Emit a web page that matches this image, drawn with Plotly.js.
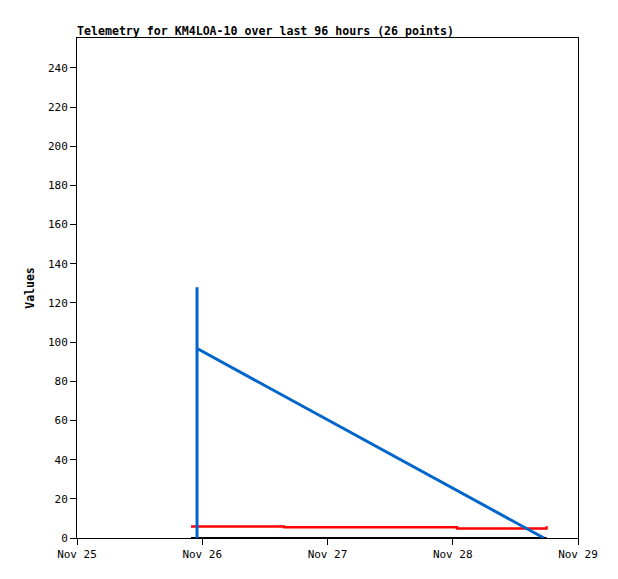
<!DOCTYPE html>
<html><head><meta charset="utf-8">
<script src="https://cdn.plot.ly/plotly-3.0.1.min.js"></script>
<style>html,body{margin:0;padding:0;background:#fff;}#chart{width:618px;height:579px;}</style>
</head><body><div id="chart"></div>
<script>
var blueTimes = ["2023-11-25 23:00", "2023-11-25 23:00", "2023-11-25 23:00", "2023-11-25 23:11", "2023-11-28 17:29"];
var blueValues = [0, 128, 96.5, 96.5, 0];
var redTimes = ["2023-11-25 21:51", "2023-11-26 15:43", "2023-11-26 15:44", "2023-11-28 00:49", "2023-11-28 00:50", "2023-11-28 17:58", "2023-11-28 18:00"];
var redValues = [5.9, 5.9, 5.5, 5.5, 4.9, 4.9, 6.0];
var blackTimes = ["2023-11-25 21:51", "2023-11-28 18:00"];
var blackValues = [0, 0];
var xTickVals = ["2023-11-25", "2023-11-26", "2023-11-27", "2023-11-28", "2023-11-29"];
var xTickText = ["Nov 25", "Nov 26", "Nov 27", "Nov 28", "Nov 29"];
var yTickVals = [0, 20, 40, 60, 80, 100, 120, 140, 160, 180, 200, 220, 240];

var traces = [
  {x: blackTimes, y: blackValues, mode: "lines", line: {color: "#000000", width: 2}, showlegend: false, hoverinfo: "skip"},
  {x: redTimes, y: redValues, mode: "lines", line: {color: "#ff0000", width: 2.5}, showlegend: false},
  {x: blueTimes, y: blueValues, mode: "lines", line: {color: "#0066cc", width: 3}, showlegend: false}
];
var mono = "DejaVu Sans Mono, Liberation Mono, monospace";
var layout = {
  width: 618, height: 579,
  margin: {l: 77, r: 40, t: 38, b: 41},
  paper_bgcolor: "#ffffff", plot_bgcolor: "#ffffff",
  showlegend: false,
  title: {text: "<b>Telemetry for KM4LOA-10 over last 96 hours (26 points)</b>", x: 77/618, xanchor: "left", y: 1 - 31/579, yanchor: "middle", font: {family: mono, size: 11.6, color: "#000"}},
  xaxis: {type: "date", range: ["2023-11-25", "2023-11-29"], tickvals: xTickVals, ticktext: xTickText,
    showgrid: false, zeroline: false, showline: true, linecolor: "#000", linewidth: 1, mirror: true,
    ticks: "outside", ticklen: 6, tickcolor: "#000", tickfont: {family: mono, size: 11, color: "#000"}},
  yaxis: {range: [0, 255.3], tickvals: yTickVals, showgrid: false, zeroline: false, showline: true, linecolor: "#000", linewidth: 1, mirror: true,
    ticks: "outside", ticklen: 6, tickcolor: "#000", tickfont: {family: mono, size: 11, color: "#000"},
    title: {text: "<b>Values</b>", font: {family: mono, size: 11.5, color: "#000"}, standoff: 10}}
};
Plotly.newPlot("chart", traces, layout, {displayModeBar: false, staticPlot: true});
</script></body></html>
